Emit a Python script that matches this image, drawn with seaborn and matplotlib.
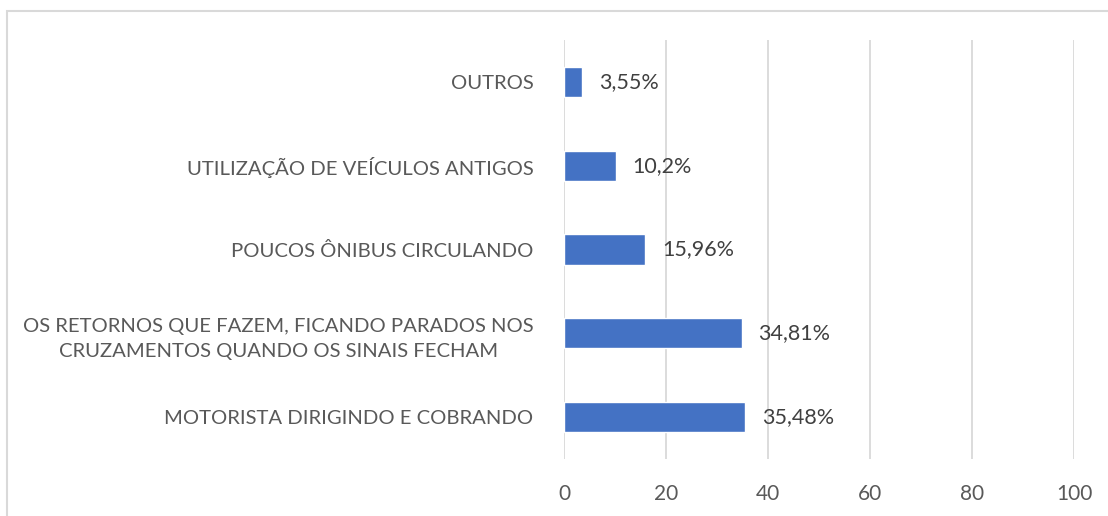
import matplotlib
matplotlib.use("Agg")
import matplotlib.pyplot as plt
import seaborn as sns
import pandas as pd
from matplotlib.patches import Rectangle

# Data
categories = [
    "OUTROS",
    "UTILIZAÇÃO DE VEÍCULOS ANTIGOS",
    "POUCOS ÔNIBUS CIRCULANDO",
    "OS RETORNOS QUE FAZEM, FICANDO PARADOS NOS\nCRUZAMENTOS QUANDO OS SINAIS FECHAM",
    "MOTORISTA DIRIGINDO E COBRANDO",
]
values = [3.55, 10.2, 15.96, 34.81, 35.48]
value_labels = ["3,55%", "10,2%", "15,96%", "34,81%", "35,48%"]
x_ticks = [0, 20, 40, 60, 80, 100]

df = pd.DataFrame({"categoria": categories, "valor": values})

sns.set_style("white")
plt.rcParams["font.family"] = ["Lato", "DejaVu Sans"]
text_color = "#595959"

fig = plt.figure(figsize=(11.08, 5.16), dpi=100)
W, H = 1108, 516
ax = fig.add_axes([564 / W, 1 - 459 / H, (1074 - 564) / W, (459 - 40) / H])

sns.barplot(data=df, x="valor", y="categoria", color="#4472C4", width=0.36,
            orient="h", ax=ax, saturation=1)

ax.set_xlim(0, 100)
ax.set_ylim(len(categories) - 0.5, -0.5)
ax.set_xticks(x_ticks)
ax.set_xticklabels([str(t) for t in x_ticks])
ax.xaxis.grid(True, color="#d9d9d9", linewidth=1.3)
ax.set_axisbelow(True)
for s in ax.spines.values():
    s.set_visible(False)
ax.set_xlabel("")
ax.set_ylabel("")
ax.tick_params(axis="x", length=0, pad=18, labelsize=15, labelcolor=text_color)
ax.tick_params(axis="y", length=0, pad=22, labelsize=14.6, labelcolor=text_color)
for lbl in ax.get_yticklabels():
    lbl.set_multialignment("center")
    lbl.set_linespacing(1.6)

for i, (v, t) in enumerate(zip(values, value_labels)):
    ax.annotate(t, xy=(v, i), xytext=(12, 0), textcoords="offset points",
                va="center", ha="left", fontsize=15.5, color="#404040")

# chart area border, cut off at right and bottom like the reference
fig.patches.append(Rectangle((7 / W, -0.1), 1.2, 1 - 11 / H + 0.1,
                             transform=fig.transFigure, fill=False,
                             edgecolor="#d9d9d9", linewidth=1.5))

fig.savefig("out.png", dpi=100)
